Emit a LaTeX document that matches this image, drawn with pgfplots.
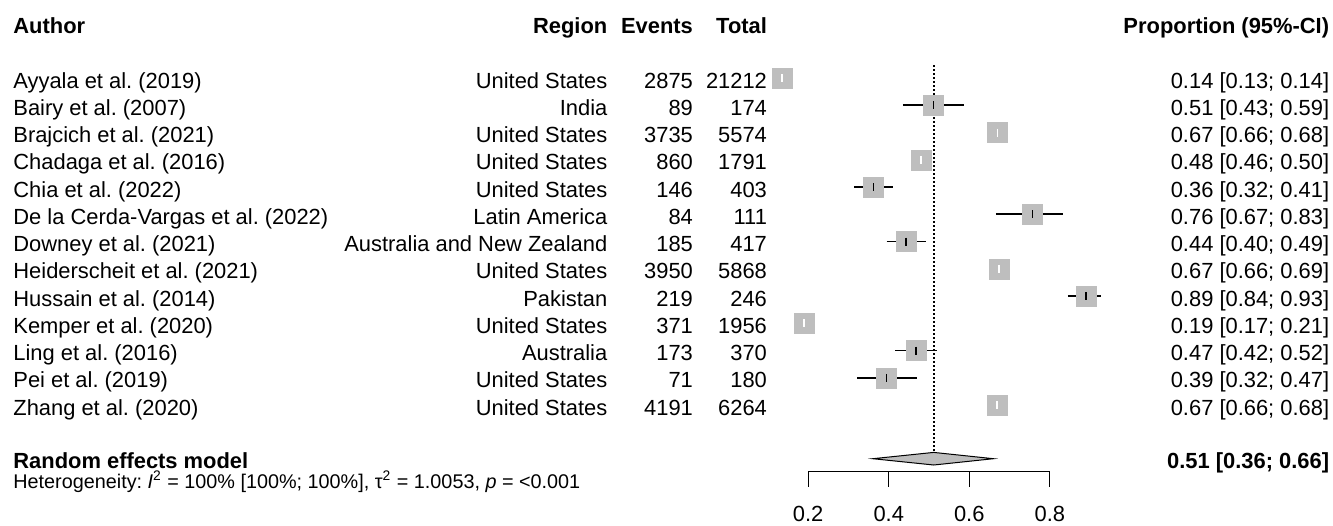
\documentclass[border=0pt]{standalone}
\usepackage{pgfplots}
\pgfplotsset{compat=1.18}
\usepackage{fontspec}
\setmainfont{Liberation Sans}
\frenchspacing
\definecolor{boxgray}{RGB}{190,190,190}
\newcommand{\mainf}{\fontsize{10.95}{13}\selectfont}
\newcommand{\smallf}{\fontsize{9.9}{12}\selectfont}
\begin{document}
\begin{tikzpicture}[every node/.style={inner sep=0pt, font=\mainf}]
\useasboundingbox (0,0) rectangle (666.5pt,262.5pt);
\begin{axis}[at={(0,0)}, anchor=south west, scale only axis,
  width=666.5pt, height=262.5pt,
  xmin=-1.8064, xmax=1.5030, ymin=0, ymax=525, y dir=reverse,
  hide axis, clip=false]
% reference line (random effects estimate)
\addplot[black, line width=0.8pt, dash pattern=on 0.8pt off 1.2pt] coordinates {(0.5117,65) (0.5117,452.4)};
% study boxes
\addplot[only marks, mark=square*, mark size=5pt, mark options={fill=boxgray, draw=boxgray, line width=0.2pt}] coordinates {
(0.1355,78) (0.5115,105.25) (0.6701,132.5) (0.4802,159.75) (0.3623,187)
(0.7568,214.25) (0.4436,241.5) (0.6731,268.75) (0.8902,296) (0.1897,323.25)
(0.4676,350.5) (0.3944,377.75) (0.6691,405)};
% confidence intervals outside the boxes (black)
\addplot[black, line width=0.8pt, unbounded coords=jump] coordinates {
(0.435,105.25) (0.588,105.25) (0.5,nan)
(0.315,187) (0.411,187) (0.5,nan)
(0.666,214.25) (0.833,214.25) (0.5,nan)
(0.395,241.5) (0.492,241.5) (0.5,nan)
(0.845,296) (0.927,296) (0.5,nan)
(0.416,350.5) (0.520,350.5) (0.5,nan)
(0.322,377.75) (0.470,377.75)};
\addplot[only marks, mark=|, mark size=2pt, mark options={black, line width=0.8pt}] coordinates {
(0.5115,105.25) (0.3623,187) (0.7568,214.25) (0.4436,241.5) (0.8902,296) (0.4676,350.5) (0.3944,377.75)};
% confidence intervals inside the boxes (white)
\addplot[white, line width=0.8pt, unbounded coords=jump] coordinates {
(0.131,78) (0.140,78) (0.5,nan)
(0.658,132.5) (0.682,132.5) (0.5,nan)
(0.457,159.75) (0.504,159.75) (0.5,nan)
(0.661,268.75) (0.685,268.75) (0.5,nan)
(0.172,323.25) (0.208,323.25) (0.5,nan)
(0.657,405) (0.681,405)};
\addplot[only marks, mark=|, mark size=2pt, mark options={white, line width=0.8pt}] coordinates {
(0.1355,78) (0.6701,132.5) (0.4802,159.75) (0.6731,268.75) (0.1897,323.25) (0.6691,405)};
% pooled diamond
\addplot[fill=boxgray, draw=black, line width=0.5pt] coordinates {
(0.3605,458.7) (0.5117,452.4) (0.66,458.7) (0.5117,465)} -- cycle;
% x axis
\addplot[black, line width=0.6pt] coordinates {(0.2,486.7) (0.2,471.7) (0.8,471.7) (0.8,486.7)};
\addplot[black, line width=0.6pt, unbounded coords=jump] coordinates {(0.4,471.7) (0.4,486.7) (0.5,nan) (0.6,471.7) (0.6,486.7)};
\foreach \t in {0.2,0.4,0.6,0.8} {
  \edef\tmp{\noexpand\node[anchor=base] at (axis cs:\t,521) {\t};}\tmp
}
% headers
\node[anchor=base west] at (axis cs:-1.7741,33) {\bfseries Author};
\node[anchor=base east] at (axis cs:-0.2977,33) {\bfseries Region};
\node[anchor=base east] at (axis cs:-0.0852,33) {\bfseries Events};
\node[anchor=base east] at (axis cs:0.0986,33) {\bfseries Total};
\node[anchor=base east] at (axis cs:1.4943,33) {\bfseries Proportion (95\%-CI)};
% rows
\foreach \y/\a/\r/\e/\n/\p in {
 88/Ayyala et al. (2019)/United States/2875/21212/0.14 [0.13; 0.14],
 115.25/Bairy et al. (2007)/India/89/174/0.51 [0.43; 0.59],
 142.5/Brajcich et al. (2021)/United States/3735/5574/0.67 [0.66; 0.68],
 169.75/Chadaga et al. (2016)/United States/860/1791/0.48 [0.46; 0.50],
 197/Chia et al. (2022)/United States/146/403/0.36 [0.32; 0.41],
 224.25/De la Cerda-Vargas et al. (2022)/Latin America/84/111/0.76 [0.67; 0.83],
 251.5/Downey et al. (2021)/Australia and New Zealand/185/417/0.44 [0.40; 0.49],
 278.75/Heiderscheit et al. (2021)/United States/3950/5868/0.67 [0.66; 0.69],
 306/Hussain et al. (2014)/Pakistan/219/246/0.89 [0.84; 0.93],
 333.25/Kemper et al. (2020)/United States/371/1956/0.19 [0.17; 0.21],
 360.5/Ling et al. (2016)/Australia/173/370/0.47 [0.42; 0.52],
 387.75/Pei et al. (2019)/United States/71/180/0.39 [0.32; 0.47],
 415/Zhang et al. (2020)/United States/4191/6264/0.67 [0.66; 0.68]} {
  \edef\tmp{
  \noexpand\node[anchor=base west] at (axis cs:-1.7741,\y) {\a};
  \noexpand\node[anchor=base east] at (axis cs:-0.2977,\y) {\r};
  \noexpand\node[anchor=base east] at (axis cs:-0.0852,\y) {\e};
  \noexpand\node[anchor=base east] at (axis cs:0.0986,\y) {\n};
  \noexpand\node[anchor=base east] at (axis cs:1.4943,\y) {\p};}\tmp
}
\node[anchor=base west] at (axis cs:-1.7741,468) {\bfseries Random effects model};
\node[anchor=base east] at (axis cs:1.4943,468) {\bfseries 0.51 [0.36; 0.66]};
\node[anchor=base west, font=\smallf] at (axis cs:-1.7741,488) {Heterogeneity: \textit{I}\textsuperscript{2} = 100\% [100\%; 100\%], τ\textsuperscript{2} = 1.0053, \textit{p} = <0.001};
\end{axis}
\end{tikzpicture}
\end{document}
